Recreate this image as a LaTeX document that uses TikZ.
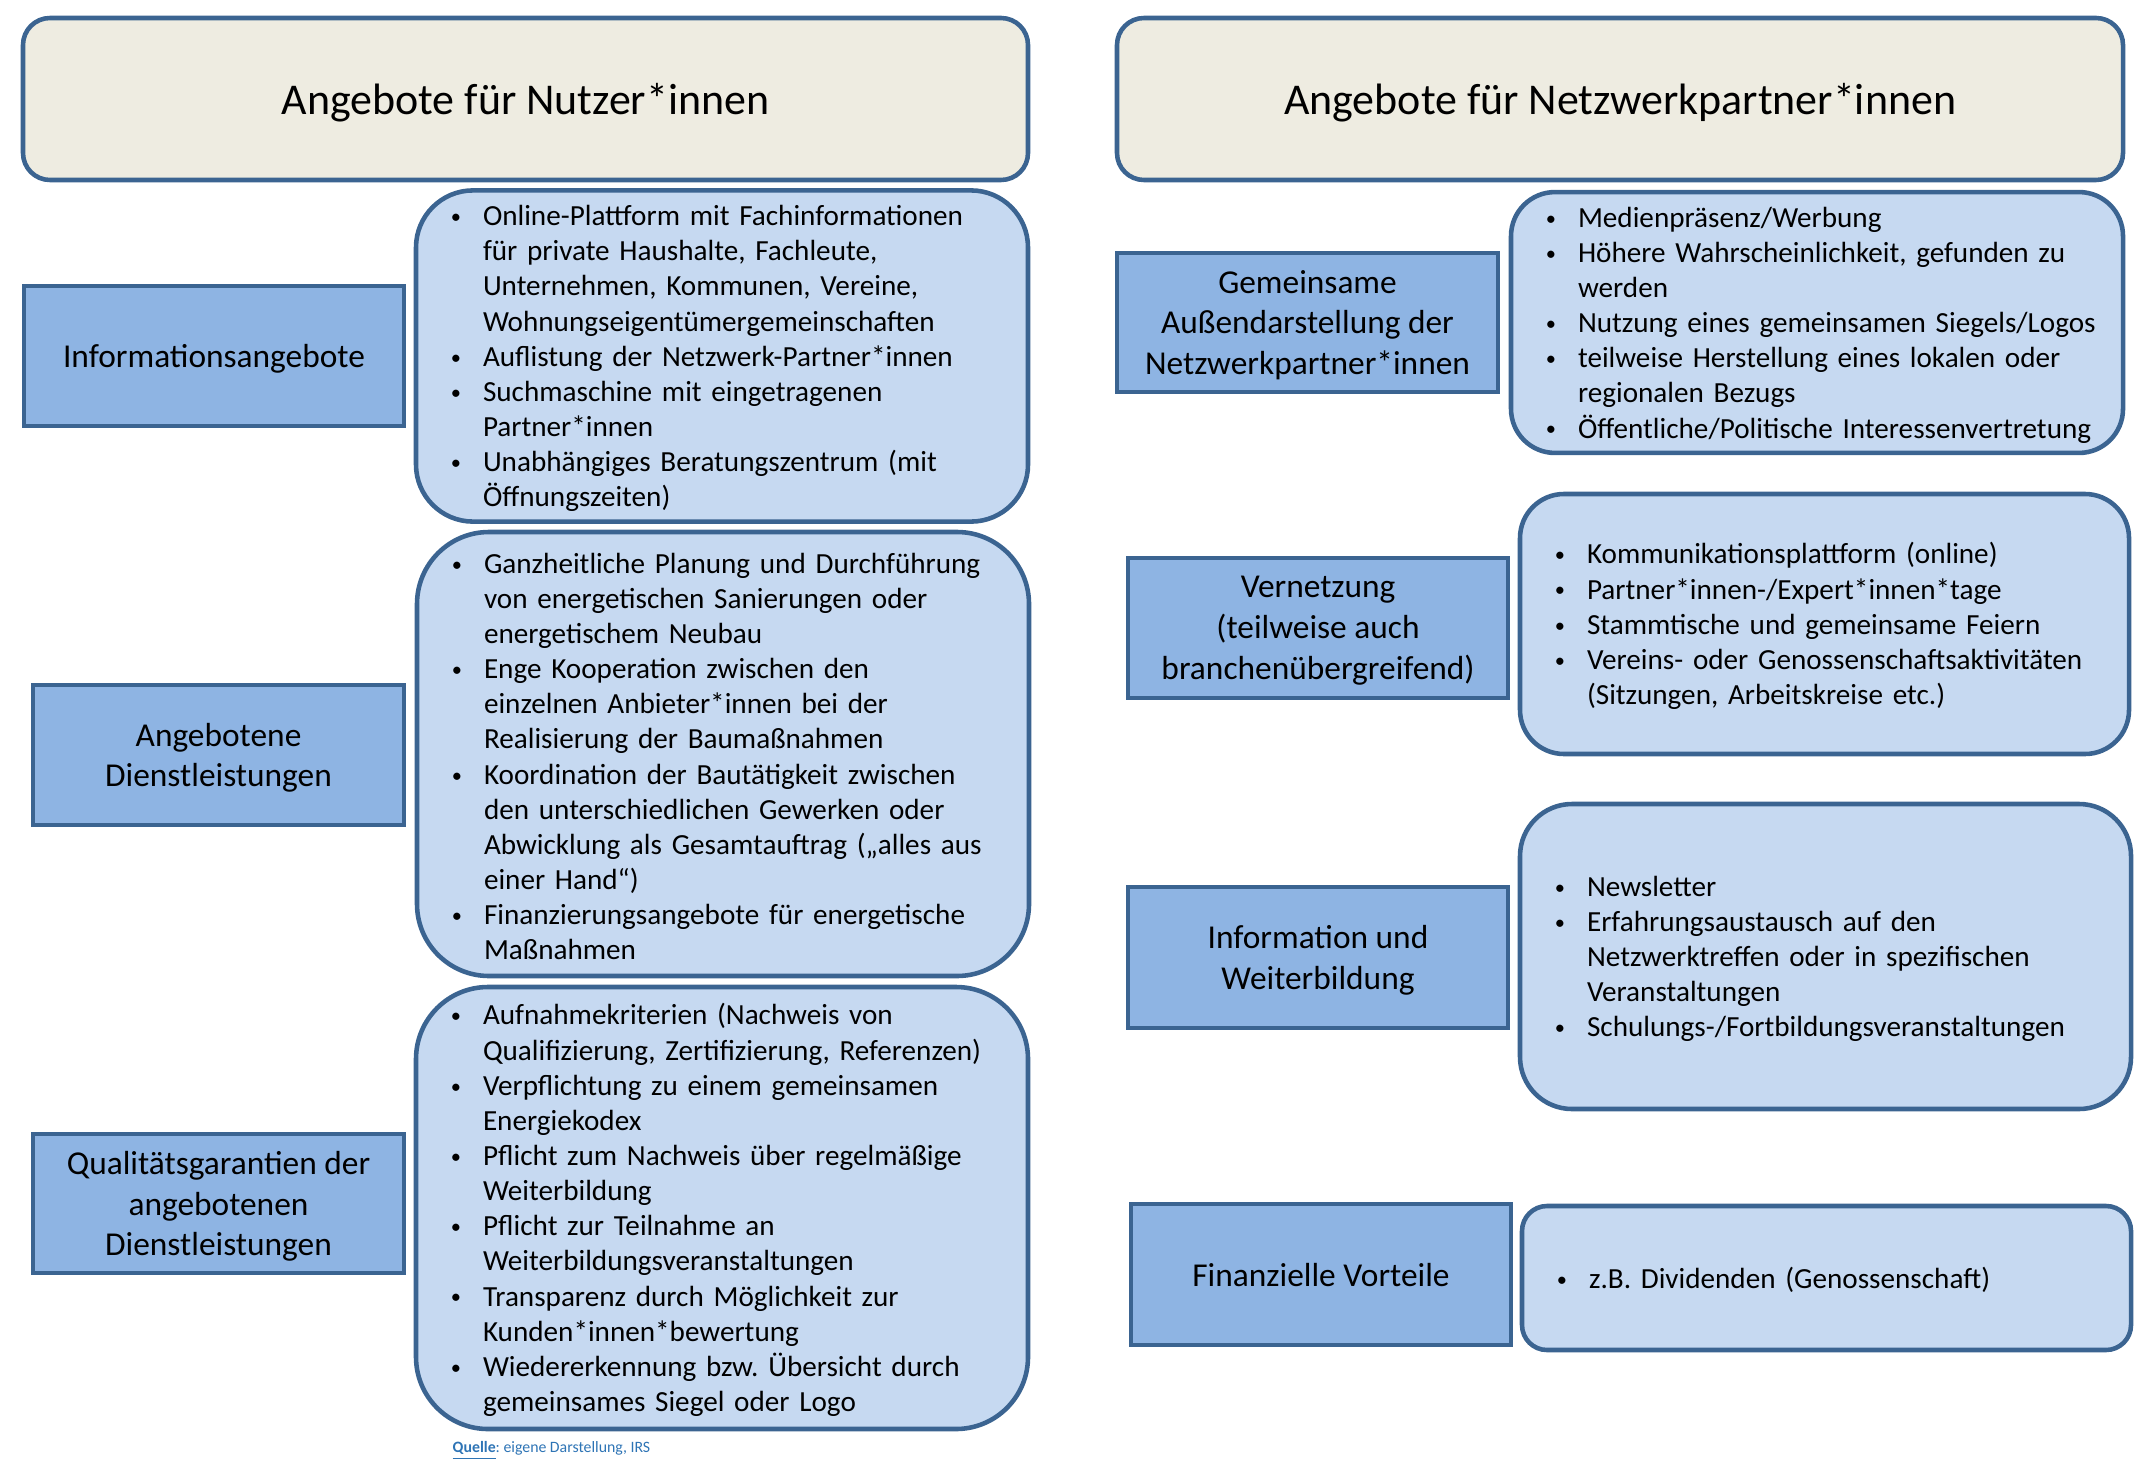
\documentclass[tikz,border=0pt]{standalone}
\usepackage{fontspec}
\setmainfont{Carlito}
\usepackage{xcolor}
\usepackage{enumitem}
\usetikzlibrary{positioning}

\definecolor{rahmen}{HTML}{3B6491}
\definecolor{kopffarbe}{HTML}{EEECE1}
\definecolor{themafarbe}{HTML}{8EB4E3}
\definecolor{listenfarbe}{HTML}{C6D9F1}
\definecolor{quellfarbe}{HTML}{2E74B5}

\newcommand{\punkt}{\raisebox{0.6pt}{\scalebox{0.7}{\textbullet}}}
\setlist[itemize]{label=\punkt, leftmargin=0.47cm, labelsep=0.22cm, itemsep=0pt,
  topsep=0pt, parsep=0pt, partopsep=0pt, after=\vspace{2.8pt}}
\frenchspacing

\begin{document}
\begin{tikzpicture}[y=-1cm,
        kopf/.style={draw=rahmen, fill=kopffarbe, line width=1.3pt, rounded corners=0.27cm,
                     minimum width=10.05cm, minimum height=1.62cm, text depth=0pt,
                     font=\fontsize{12.5}{15}\selectfont},
        thema/.style={draw=rahmen, fill=themafarbe, line width=1.3pt, minimum width=3.8cm,
                      minimum height=1.4cm, align=center, text depth=0pt,
                      font=\fontsize{9.5}{11.6}\selectfont},
        liste/.style={draw=rahmen, fill=listenfarbe, line width=1.3pt, rounded corners=#1,
                      inner xsep=0.2cm, inner ysep=0pt, text width=5.72cm, align=left,
                      font=\fontsize{8.3}{10.0}\selectfont}]
  \useasboundingbox (0,0) rectangle (21.34,14.58);

  % Kopfzeilen
  \node[kopf] (nutzer) at (5.255,0.99) {Angebote für Nutzer*innen};
  \node[kopf, minimum width=10.06cm] (partner) at (16.20,0.99) {Angebote für Netzwerkpartner*innen};

  % linke Spalte
  \node[thema] (info) at (2.14,3.56) {Informationsangebote};
  \node[liste=0.57cm, minimum height=3.26cm] (infoliste) at (7.22,3.56) {%
    \begin{itemize}
      \item Online-Plattform mit Fachinformationen\newline für private Haushalte, Fachleute,\newline
            Unternehmen, Kommunen, Vereine,\newline Wohnungseigentümergemeinschaften
      \item Auflistung der Netzwerk-Partner*innen
      \item Suchmaschine mit eingetragenen\newline Partner*innen
      \item Unabhängiges Beratungszentrum (mit\newline Öffnungszeiten)
    \end{itemize}};

  \node[thema, minimum width=3.71cm] (dienst) at (2.185,7.55) {Angebotene\\Dienstleistungen};
  \node[liste=0.72cm, minimum height=4.44cm] (dienstliste) at (7.23,7.54) {%
    \begin{itemize}
      \item Ganzheitliche Planung und Durchführung\newline von energetischen Sanierungen oder\newline
            energetischem Neubau
      \item Enge Kooperation zwischen den\newline einzelnen Anbieter*innen bei der\newline
            Realisierung der Baumaßnahmen
      \item Koordination der Bautätigkeit zwischen\newline den unterschiedlichen Gewerken oder\newline
            Abwicklung als Gesamtauftrag („alles aus\newline einer Hand“)
      \item Finanzierungsangebote für energetische\newline Maßnahmen
    \end{itemize}};

  \node[thema, minimum width=3.71cm, minimum height=1.39cm] (qualitaet) at (2.185,12.035)
    {Qualitätsgarantien der\\angebotenen\\Dienstleistungen};
  \node[liste=0.72cm, minimum height=4.42cm] (qualiliste) at (7.22,12.08) {%
    \begin{itemize}
      \item Aufnahmekriterien (Nachweis von\newline Qualifizierung, Zertifizierung, Referenzen)
      \item Verpflichtung zu einem gemeinsamen\newline Energiekodex
      \item Pflicht zum Nachweis über regelmäßige\newline Weiterbildung
      \item Pflicht zur Teilnahme an\newline Weiterbildungsveranstaltungen
      \item Transparenz durch Möglichkeit zur\newline Kunden*innen*bewertung
      \item Wiedererkennung bzw. Übersicht durch\newline gemeinsames Siegel oder Logo
    \end{itemize}};

  % rechte Spalte
  \node[thema, minimum width=3.81cm, minimum height=1.39cm] (aussen) at (13.075,3.225)
    {Gemeinsame\\Außendarstellung der\\Netzwerkpartner*innen};
  \node[liste=0.44cm, minimum height=2.59cm] (aussenliste) at (18.17,3.225) {%
    \begin{itemize}
      \item Medienpräsenz/Werbung
      \item Höhere Wahrscheinlichkeit, gefunden zu\newline werden
      \item Nutzung eines gemeinsamen Siegels/Logos
      \item teilweise Herstellung eines lokalen oder\newline regionalen Bezugs
      \item Öffentliche/Politische Interessenvertretung
    \end{itemize}};

  \node[thema] (netz) at (13.18,6.28) {Vernetzung\\(teilweise auch\\branchenübergreifend)};
  \node[liste=0.44cm, minimum height=2.60cm, text width=5.69cm] (netzliste) at (18.245,6.24) {%
    \begin{itemize}
      \item Kommunikationsplattform (online)
      \item Partner*innen-/Expert*innen*tage
      \item Stammtische und gemeinsame Feiern
      \item Vereins- oder Genossenschaftsaktivitäten\newline (Sitzungen, Arbeitskreise etc.)
    \end{itemize}};

  \node[thema, minimum height=1.41cm] (bildung) at (13.18,9.575) {Information und\\Weiterbildung};
  \node[liste=0.52cm, minimum height=3.05cm, text width=5.71cm] (bildungsliste) at (18.255,9.565) {%
    \begin{itemize}
      \item Newsletter
      \item Erfahrungsaustausch auf den\newline Netzwerktreffen oder in spezifischen\newline
            Veranstaltungen
      \item Schulungs-/Fortbildungsveranstaltungen
    \end{itemize}};

  \node[thema, minimum height=1.41cm] (finanz) at (13.21,12.745) {Finanzielle Vorteile};
  \node[liste=0.25cm, minimum height=1.44cm, text width=5.69cm] (finanzliste) at (18.265,12.78) {%
    \begin{itemize}
      \item z.B. Dividenden (Genossenschaft)
    \end{itemize}};

  % Quelle
  \node[anchor=west, inner sep=0pt, text=quellfarbe, font=\fontsize{4.5}{5}\selectfont] (quelle)
    at (4.52,14.51) {\underline{\textbf{Quelle}}: eigene Darstellung, IRS};
\end{tikzpicture}
\end{document}
